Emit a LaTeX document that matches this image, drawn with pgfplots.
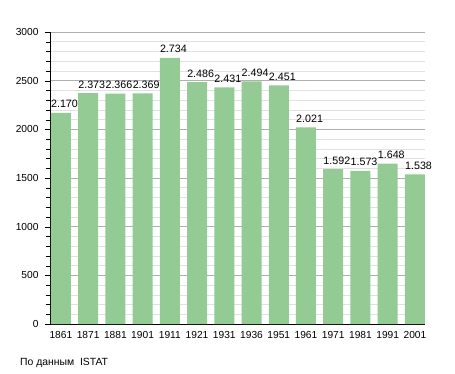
\documentclass[border=0pt]{standalone}
\usepackage{fontspec}
\setmainfont{Liberation Sans}
\usepackage{pgfplots}
\pgfplotsset{compat=1.18}
\definecolor{barfill}{RGB}{148,202,148}
\definecolor{majgrid}{RGB}{175,175,175}
\definecolor{mingrid}{RGB}{225,225,225}
\begin{document}
\begin{tikzpicture}[x=1pt,y=1pt]
\path[use as bounding box] (0,0) rectangle (455,373);
\begin{axis}[
  at={(50pt,49pt)}, anchor=south west,
  scale only axis, width=375pt, height=292pt,
  ybar, bar width=20pt, bar shift=0pt,
  xmin=-0.40, xmax=13.37,
  ymin=0, ymax=3000,
  axis lines=left, axis line style={-, black},
  xtick={0,...,13},
  xticklabels={1861,1871,1881,1901,1911,1921,1931,1936,1951,1961,1971,1981,1991,2001},
  x tick style={draw=none},
  xticklabel style={font=\fontsize{10.2}{12}\selectfont, inner sep=1pt, yshift=-1pt},
  ytick={0,500,...,3000},
  minor y tick num=4,
  tick align=outside,
  major tick length=5pt, minor tick length=4pt,
  y tick style={black},
  yticklabel style={font=\fontsize{10.2}{12}\selectfont, /pgf/number format/1000 sep={}, xshift=-3pt},
  ymajorgrids, yminorgrids,
  major grid style={majgrid, line width=0.6pt},
  minor grid style={mingrid, line width=0.6pt},
  /pgf/number format/assume math mode=true,
  nodes near coords,
  nodes near coords style={font=\fontsize{10.7}{12}\selectfont, anchor=base west, inner sep=0pt, xshift=-10pt, yshift=5pt, /pgf/number format/1000 sep={.}},
  clip=false,
]
\addplot[fill=barfill, draw=none] coordinates {
(0,2170) (1,2373) (2,2366) (3,2369) (4,2734) (5,2486) (6,2431)
(7,2494) (8,2451) (9,2021) (10,1592) (11,1573) (12,1648) (13,1538)
};
\end{axis}
\node[anchor=base west, inner sep=0pt, font=\fontsize{10.4}{12}\selectfont] at (20,8) {По данным\ \ ISTAT};
\end{tikzpicture}
\end{document}
